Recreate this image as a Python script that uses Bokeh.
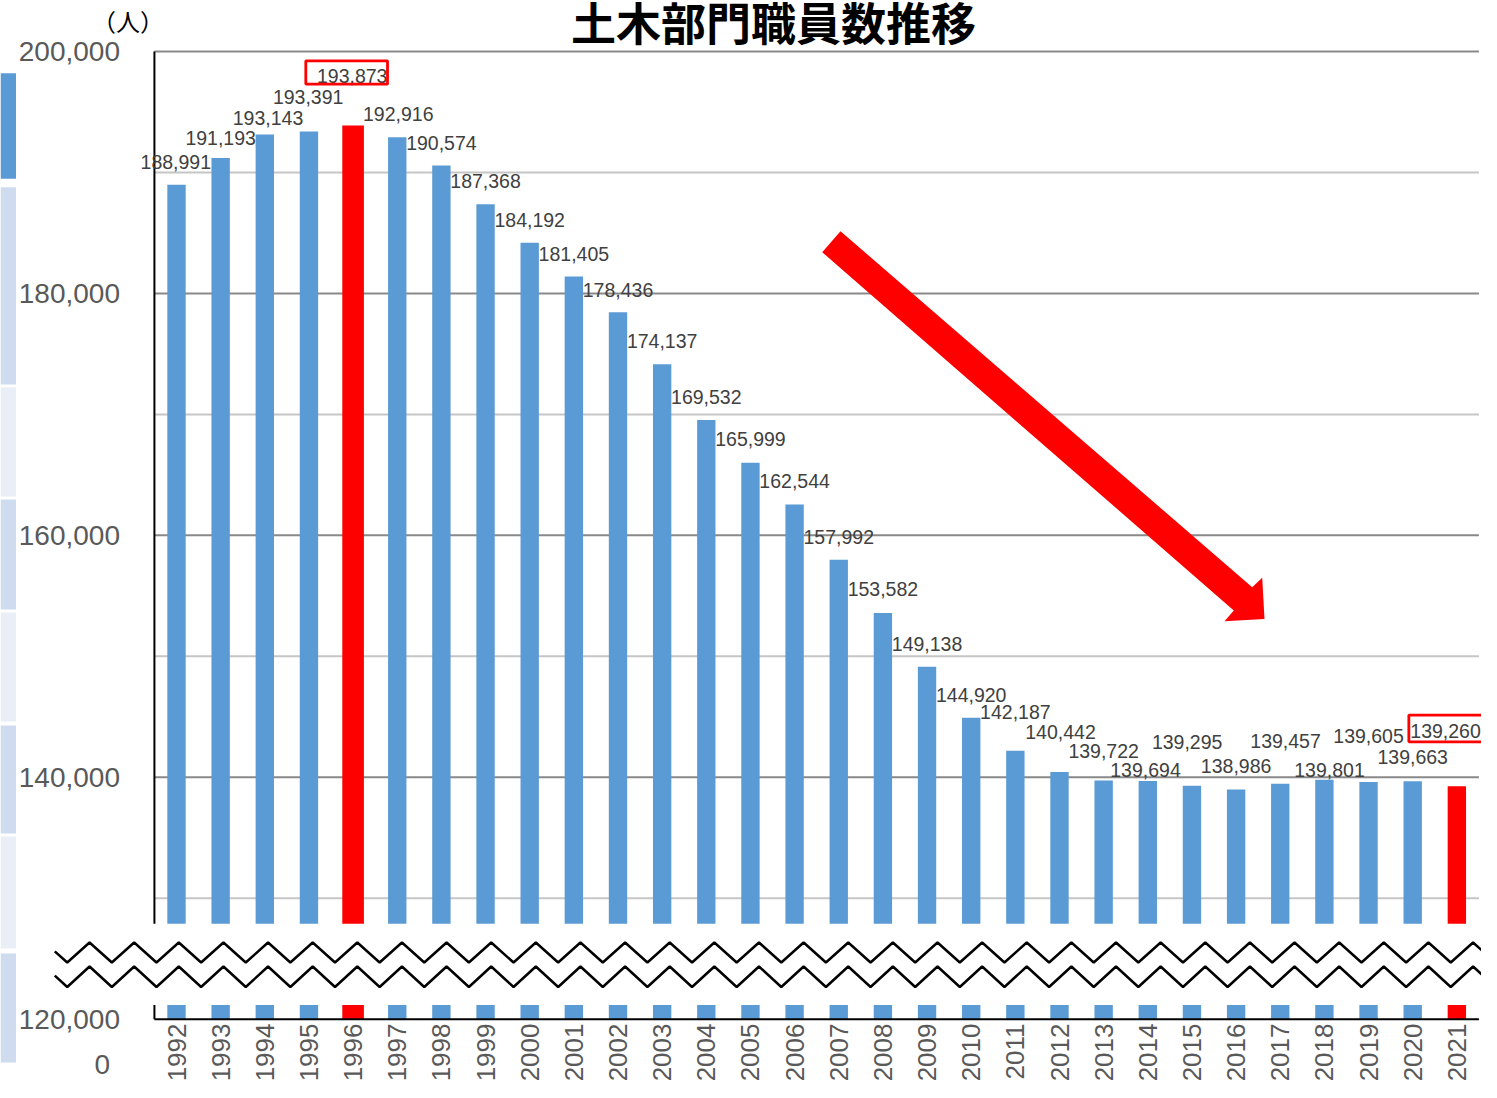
import math
from bokeh.plotting import figure
from bokeh.models import Range1d, ColumnDataSource
from bokeh.embed import file_html
from bokeh.resources import INLINE
from bokeh.core.properties import value

# ---------------- data ----------------
years = ["1992", "1993", "1994", "1995", "1996", "1997", "1998", "1999", "2000", "2001",
         "2002", "2003", "2004", "2005", "2006", "2007", "2008", "2009", "2010", "2011",
         "2012", "2013", "2014", "2015", "2016", "2017", "2018", "2019", "2020", "2021"]
staff = [188991, 191193, 193143, 193391, 193873, 192916, 190574, 187368, 184192, 181405,
         178436, 174137, 169532, 165999, 162544, 157992, 153582, 149138, 144920, 142187,
         140442, 139722, 139694, 139295, 138986, 139457, 139801, 139605, 139663, 139260]
highlight_years = ["1996", "2021"]
boxed_years = ["1996", "2021"]
y_tick_values = [200000, 180000, 160000, 140000, 120000]
grid_values = [200000, 190000, 180000, 170000, 160000, 150000, 140000, 130000]
axis_floor = 120000
axis_top = 200000
title_text = "土木部門職員数推移"
unit_text = "（人）"
zero_text = "0"

# ---------------- layout (pixels) ----------------
FIG_W, FIG_H = 1481, 1082
X_C0, X_STEP = 176.0, 44.15          # first bar centre, category step
Y_TOP, PX_PER_UNIT = 51.0, 0.012096  # pixel of 200,000 ; px per person

def rx(px):
    return (px - X_C0) / X_STEP

def ry(py):
    return axis_top - (py - Y_TOP) / PX_PER_UNIT

# data-label offsets from bar top / centre (px)
label_dx = [-0.7, 0, 3.2, -0.8, -0.9, 1, 0, 0, 0, 0, 0, 0, 0, 0, 0, 0, 0, 0, 0, 0,
            1, 0, -2.3, -4.8, 0, 5.3, 5.1, 0, 0, -11.3]
label_dy = [-22.5, -20.2, -16.6, -34.2, -50.1, -22.7, -23, -22.8, -23.2, -22.9,
            -22.8, -23.8, -23.5, -23.3, -23.1, -23.1, -23.5, -23.2, -23.2, -38.6,
            -39.7, -30.1, -11.2, -43.6, -24, -43.3, -9.9, -46.5, -24.1, -55.7]
# box edges relative to the boxed label centre (px): left, right, top, bottom
box_left = [-46.4, -36.7]
box_right = [35.3, 50.0]
box_top = [-14.7, -15.4]
box_bottom = [8.7, 11.3]

BLUE = "#5B9BD5"
RED = "#FF0000"

p = figure(width=FIG_W, height=FIG_H,
           x_range=Range1d(rx(0), rx(FIG_W)),
           y_range=Range1d(ry(FIG_H), ry(0)),
           x_axis_location=None, y_axis_location=None,
           toolbar_location=None, output_backend="svg", min_border=0)
p.outline_line_color = None
p.grid.visible = False
p.background_fill_color = "white"
p.border_fill_color = "white"

# left decorative strip (banded table fragment)
strip_rows = [(72.7, 178.3, BLUE), (186.7, 384, "#CFDCEF"), (387, 496, "#E9EEF7"),
              (499, 609, "#CFDCEF"), (612, 721, "#E9EEF7"), (725, 833, "#CFDCEF"),
              (836, 948, "#E9EEF7"), (953, 1062, "#CFDCEF")]
p.quad(left=[rx(0)] * len(strip_rows), right=[rx(15.5)] * len(strip_rows),
       top=[ry(a) for a, b, c in strip_rows], bottom=[ry(b) for a, b, c in strip_rows],
       color=[c for a, b, c in strip_rows], line_color=None)

# gridlines
n = len(years)
major = [g for g in grid_values if (g - axis_floor) % 20000 == 0]
minor = [g for g in grid_values if (g - axis_floor) % 20000 != 0]
p.segment(x0=[-0.5] * len(minor), x1=[n - 0.5] * len(minor), y0=minor, y1=minor,
          line_color="#C6C6C6", line_width=2)
p.segment(x0=[-0.5] * len(major), x1=[n - 0.5] * len(major), y0=major, y1=major,
          line_color="#898989", line_width=2)

# bars
idx = list(range(n))
colors = [RED if y in highlight_years else BLUE for y in years]
widths = [0.49 if y == "1996" else 0.416 for y in years]
src = ColumnDataSource(dict(x=idx, top=staff, color=colors, width=widths))
p.vbar(x="x", top="top", bottom=axis_floor, width="width", color="color",
       line_color=None, source=src)

# axis lines
p.segment(x0=[-0.5, -0.5], y0=[axis_floor, axis_floor], x1=[-0.5, n - 0.5],
          y1=[axis_top, axis_floor], line_color="black", line_width=2)

# axis break: white band + two zigzag lines
p.quad(left=[rx(50)], right=[rx(1510)], top=[ry(923.3)], bottom=[ry(1004.5)],
       color="white", line_color=None)
P = 44.63
peak0 = 178.3
x_start = 54.3

def zig(y_peak, y_trough):
    xs, ys = [], []
    k = math.floor((x_start - peak0) / (P / 2))
    seg_a = peak0 + k * P / 2
    a_is_peak = (k % 2 == 0)
    ya = y_peak if a_is_peak else y_trough
    yb = y_trough if a_is_peak else y_peak
    t = (x_start - seg_a) / (P / 2)
    xs.append(rx(x_start)); ys.append(ry(ya + (yb - ya) * t))
    j = k + 1
    while True:
        xp = peak0 + j * P / 2
        yp = y_peak if j % 2 == 0 else y_trough
        xs.append(rx(xp)); ys.append(ry(yp))
        if xp > 1510:
            break
        j += 1
    return xs, ys

for yp, yt in [(942, 962), (966, 986.5)]:
    zx, zy = zig(yp, yt)
    p.line(zx, zy, line_color="black", line_width=2.5)

# red arrow
arrow_px = [(840, 230.7), (1251.7, 586.7), (1261.7, 577.3), (1264, 618.5),
            (1224, 620.7), (1233.3, 610), (821.7, 251.7)]
p.patch([rx(a) for a, b in arrow_px], [ry(b) for a, b in arrow_px], color=RED, line_color=None)

# data labels
lab_x = [i + dx / X_STEP for i, dx in zip(idx, label_dx)]
lab_y = [v - dy / PX_PER_UNIT for v, dy in zip(staff, label_dy)]
p.text(x=lab_x, y=lab_y, text=[f"{v:,}" for v in staff], text_align="center",
       text_baseline="middle", text_font=value("Liberation Sans"),
       text_font_size="19.5px", text_color="#404040")

# red boxes around highlighted labels
bx = [lab_x[years.index(y)] for y in boxed_years]
by = [lab_y[years.index(y)] for y in boxed_years]
p.quad(left=[x + d / X_STEP for x, d in zip(bx, box_left)],
       right=[x + d / X_STEP for x, d in zip(bx, box_right)],
       top=[y - d / PX_PER_UNIT for y, d in zip(by, box_top)],
       bottom=[y - d / PX_PER_UNIT for y, d in zip(by, box_bottom)],
       fill_color=None, line_color=RED, line_width=2.8)

# y tick labels
p.text(x=[rx(119.5)] * len(y_tick_values), y=y_tick_values,
       text=[f"{v:,}" for v in y_tick_values], text_align="right", text_baseline="middle",
       text_font=value("Liberation Sans"), text_font_size="28px", text_color="#595959")
p.text(x=[rx(109.5)], y=[ry(1063.5)], text=[zero_text], text_align="right",
       text_baseline="middle", text_font=value("Liberation Sans"),
       text_font_size="28px", text_color="#595959")

# x (year) labels, rotated
p.text(x=idx, y=[ry(1023)] * n, text=years, angle=math.pi / 2, text_align="right",
       text_baseline="middle", text_font=value("Liberation Sans"),
       text_font_size="26px", text_color="#595959")

# unit and title
p.text(x=[rx(127.5)], y=[ry(19.5)], text=[unit_text], text_align="center",
       text_baseline="middle", text_font=value("Noto Sans CJK JP"),
       text_font_size="24px", text_color="#000000")
p.text(x=[rx(773)], y=[ry(21)], text=[title_text], text_align="center",
       text_baseline="alphabetic", text_font=value("Noto Sans CJK JP"),
       text_font_size="45px", text_font_style="bold", text_color="#000000")

open("out.html", "w").write(file_html(p, INLINE))
